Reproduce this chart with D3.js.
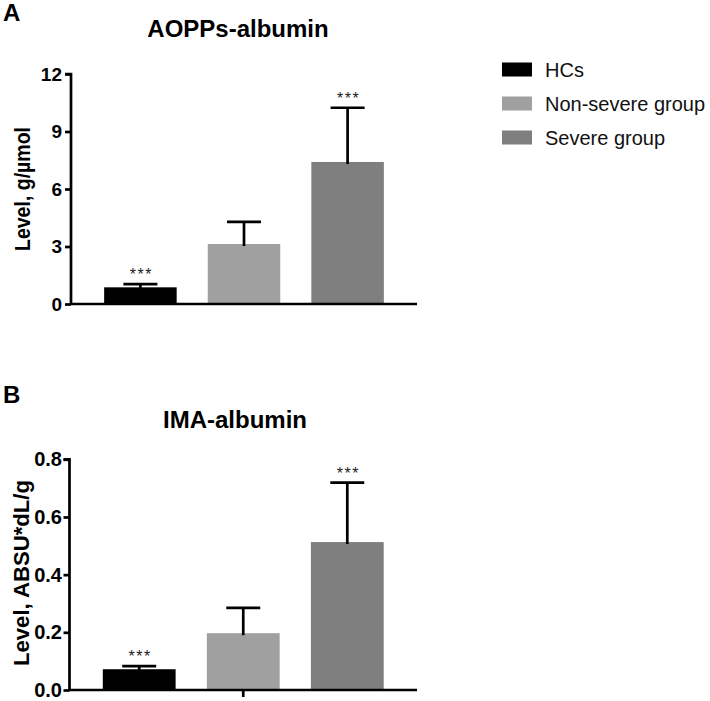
<!DOCTYPE html>
<html><head><meta charset="utf-8">
<script src="https://cdn.jsdelivr.net/npm/d3@7"></script>
<style>body{margin:0;background:#fff}svg{display:block;font-family:"Liberation Sans",Arial,sans-serif}</style>
</head><body>
<script>
const categories = ["HCs", "Non-severe group", "Severe group"];
const colors = ["#000000", "#a0a0a0", "#7f7f7f"];
const aoppsMean = [0.87, 3.13, 7.41];
const aoppsSD = [0.17, 1.16, 2.83];
const aoppsStars = ["***", "", "***"];
const aoppsTicks = [0, 3, 6, 9, 12];
const imaMean = [0.072, 0.197, 0.513];
const imaSD = [0.011, 0.088, 0.206];
const imaStars = ["***", "", "***"];
const imaTicks = [0, 0.2, 0.4, 0.6, 0.8];

const svg = d3.select("body").append("svg").attr("width", 710).attr("height", 701);

function panel(o) {
  const g = svg.append("g");
  const y = d3.scaleLinear().domain([0, o.max]).range([o.y0, o.y1]);
  const x = d3.scaleBand().domain(categories).range([o.x0, 417]).paddingInner(0.3).paddingOuter(0.32);
  g.append("text").attr("x", 3).attr("y", o.letterY).attr("font-size", 24).attr("font-weight", "bold").text(o.letter);
  g.append("text").attr("x", o.titleX).attr("y", o.titleY).attr("text-anchor", "middle")
    .attr("font-size", 24).attr("font-weight", "bold").text(o.title);
  // bars
  g.selectAll("rect.bar").data(categories).enter().append("rect")
    .attr("x", d => x(d)).attr("width", x.bandwidth())
    .attr("y", (d, i) => y(o.mean[i])).attr("height", (d, i) => y(0) - y(o.mean[i]))
    .attr("fill", (d, i) => colors[i]);
  // error bars
  const cap = 17;
  categories.forEach((d, i) => {
    const cx = x(d) + x.bandwidth() / 2;
    const top = y(o.mean[i] + o.sd[i]);
    g.append("line").attr("x1", cx).attr("x2", cx).attr("y1", y(o.mean[i]) + 2).attr("y2", top)
      .attr("stroke", "#000").attr("stroke-width", 2.7);
    g.append("line").attr("x1", cx - cap).attr("x2", cx + cap).attr("y1", top).attr("y2", top)
      .attr("stroke", "#000").attr("stroke-width", 2.7);
    if (o.stars[i]) g.append("text").attr("x", cx + 1).attr("y", top - 4).attr("text-anchor", "middle")
      .attr("font-size", 16).attr("letter-spacing", 1.5).attr("fill", "#222").text(o.stars[i]);
  });
  // y axis
  const ya = g.append("g").attr("transform", `translate(${o.x0},0)`)
    .call(d3.axisLeft(y).tickValues(o.ticks).tickSize(6).tickPadding(o.tickPad).tickFormat(o.fmt));
  ya.select(".domain").attr("stroke-width", 2.7).attr("d", `M-6,${o.y1}H0V${o.y0}`);
  ya.selectAll(".tick line").attr("stroke-width", 2.7);
  ya.selectAll(".tick text").attr("font-size", o.tickFont).attr("font-weight", "bold").attr("fill", "#000")
    .style("font-family", "Liberation Sans, Arial, sans-serif");
  // x axis
  g.append("line").attr("x1", o.x0 - 1).attr("x2", 417).attr("y1", o.y0).attr("y2", o.y0)
    .attr("stroke", "#000").attr("stroke-width", 2.7);
  if (o.midTick) {
    const mx = x(categories[1]) + x.bandwidth() / 2;
    g.append("line").attr("x1", mx).attr("x2", mx).attr("y1", o.y0).attr("y2", o.y0 + 7)
      .attr("stroke", "#000").attr("stroke-width", 2.7);
  }
  // y label
  g.append("text").attr("transform", `translate(${o.labelX},${o.labelY}) rotate(-90)`)
    .attr("text-anchor", "middle").attr("font-size", 22).attr("font-weight", "bold")
    .attr("textLength", o.labelLen).attr("lengthAdjust", "spacingAndGlyphs").text(o.ylabel);
}

panel({letter: "A", letterY: 21, title: "AOPPs-albumin", titleX: 238, titleY: 37,
  max: 12, y0: 304, y1: 74, x0: 71, mean: aoppsMean, sd: aoppsSD, stars: aoppsStars, tickFont: 19, tickPad: 3,
  ticks: aoppsTicks, fmt: d3.format("d"), ylabel: "Level, g/µmol", labelX: 30, labelY: 189, labelLen: 124, midTick: false});
panel({letter: "B", letterY: 403, title: "IMA-albumin", titleX: 235, titleY: 428,
  max: 0.8, y0: 690, y1: 459.3, x0: 69.5, mean: imaMean, sd: imaSD, stars: imaStars, tickFont: 20, tickPad: 1.5,
  ticks: imaTicks, fmt: d3.format(".1f"), ylabel: "Level, ABSU*dL/g", labelX: 29, labelY: 573, labelLen: 186, midTick: true});

// legend
const lg = svg.append("g");
categories.forEach((c, i) => {
  lg.append("rect").attr("x", 502).attr("y", 62.5 + i * 34).attr("width", 30).attr("height", 14).attr("fill", colors[i]);
  lg.append("text").attr("x", 545).attr("y", 77 + i * 34).attr("font-size", 20).attr("fill", "#111").text(c);
});
</script>
</body></html>
